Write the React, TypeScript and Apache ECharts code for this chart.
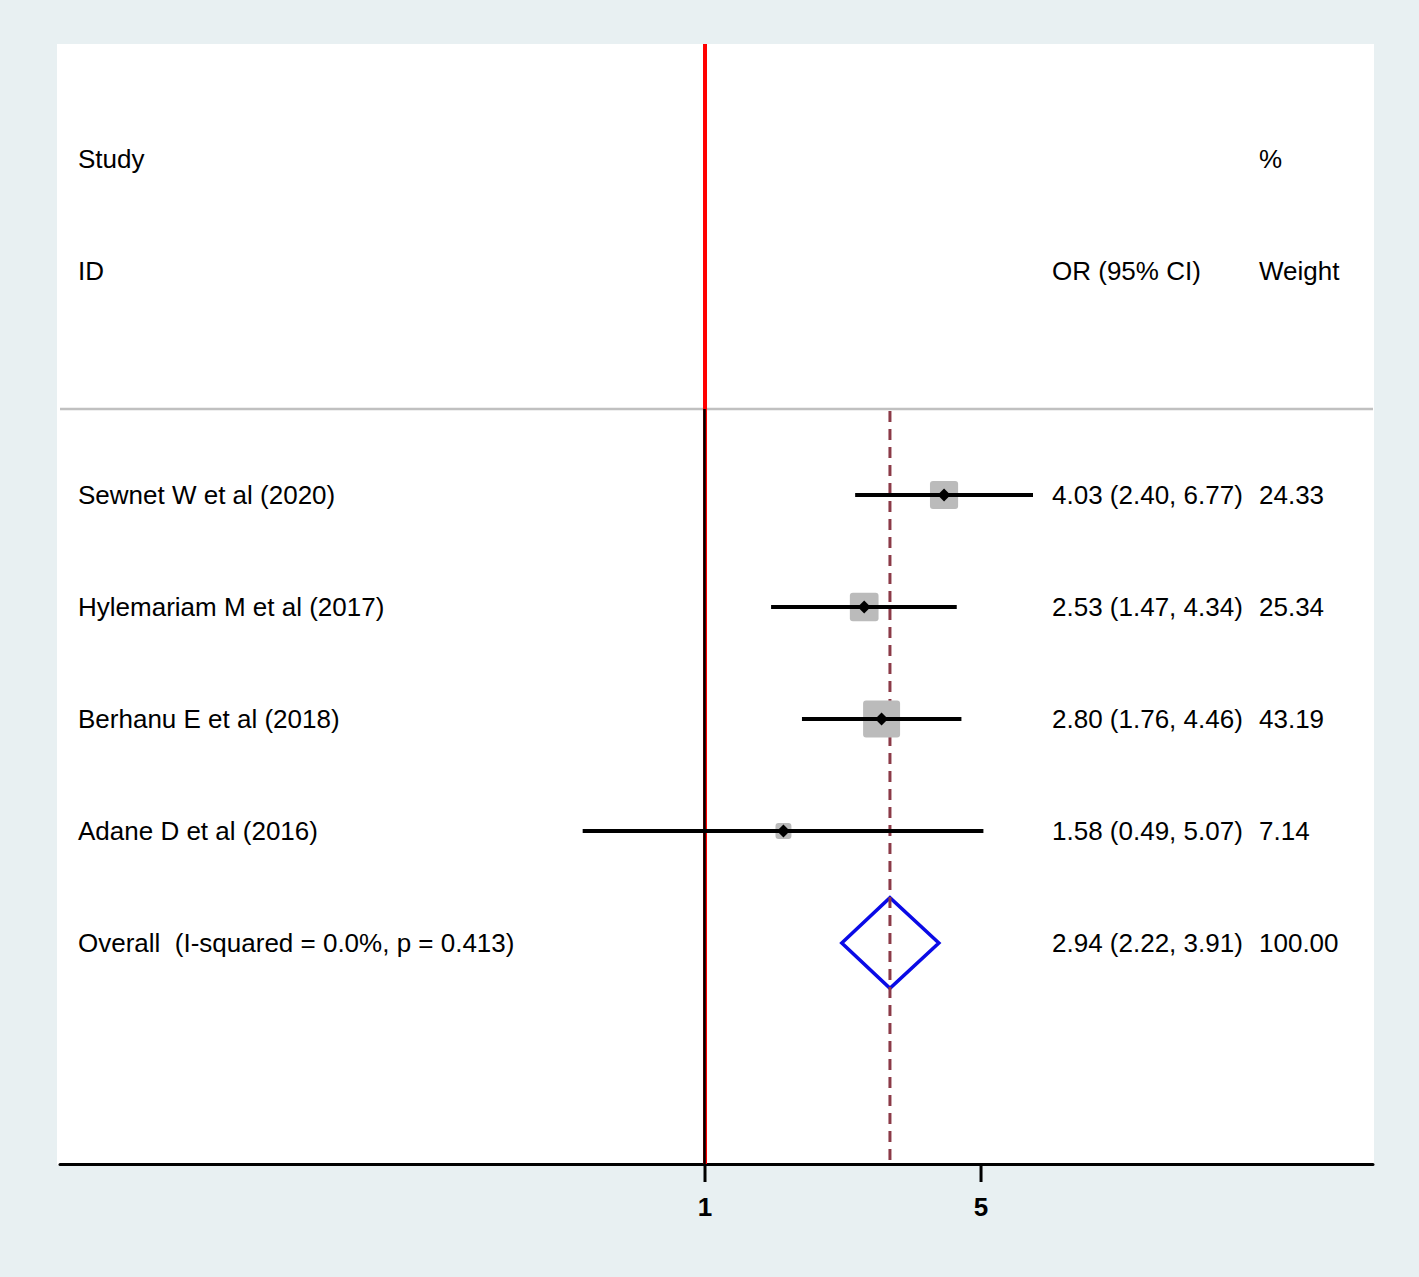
import React, { useEffect, useRef } from "react";
import * as echarts from "echarts";

// ---- data ----
const STUDIES = [
  "Sewnet W et al (2020)",
  "Hylemariam M et al (2017)",
  "Berhanu E et al (2018)",
  "Adane D et al (2016)",
];
const ODDS_RATIOS = [4.03, 2.53, 2.8, 1.58];
const CI_LOWER = [2.4, 1.47, 1.76, 0.49];
const CI_UPPER = [6.77, 4.34, 4.46, 5.07];
const WEIGHTS = [24.33, 25.34, 43.19, 7.14];

const OVERALL_LABEL = "Overall  (I-squared = 0.0%, p = 0.413)";
const OVERALL_OR = 2.94;
const OVERALL_LOWER = 2.22;
const OVERALL_UPPER = 3.91;
const OVERALL_WEIGHT = 100.0;

const X_TICKS = [1, 5];

const HEADER_STUDY = ["Study", "ID"];
const HEADER_EFFECT = ["", "OR (95% CI)"];
const HEADER_WEIGHT = ["%", "Weight"];

// ---- layout ----
const X_MIN = -3.761; // ln-space
const X_MAX = 3.895;
const Y_MIN = -0.027; // row units
const Y_MAX = 9.973;
const HEADER_ROWS = [1, 2];
const DIVIDER_ROW = 3.232;
const FIRST_STUDY_ROW = 4;
const OVERALL_ROW = FIRST_STUDY_ROW + STUDIES.length;
const DIAMOND_HALF = 0.405;
const LABEL_X = 78;
const EFFECT_X = 1052;
const WEIGHT_X = 1259;
const BOX_SCALE = 5.4;
const FONT = "'Liberation Sans', Arial, Helvetica, sans-serif";
const FONT_SIZE = 26;

const ln = Math.log;
const fmt = (v: number) => v.toFixed(2);

export default function App() {
  const ref = useRef<HTMLDivElement>(null);

  useEffect(() => {
    if (!ref.current) return;
    const chart = echarts.init(ref.current, undefined, { renderer: "svg" });

    type TextItem = { text: string; x: number; row: number };
    const texts: TextItem[] = [];
    HEADER_ROWS.forEach((row, k) => {
      texts.push({ text: HEADER_STUDY[k], x: LABEL_X, row });
      if (HEADER_EFFECT[k]) texts.push({ text: HEADER_EFFECT[k], x: EFFECT_X, row });
      texts.push({ text: HEADER_WEIGHT[k], x: WEIGHT_X, row });
    });
    STUDIES.forEach((s, i) => {
      const row = FIRST_STUDY_ROW + i;
      texts.push({ text: s, x: LABEL_X, row });
      texts.push({
        text: `${fmt(ODDS_RATIOS[i])} (${fmt(CI_LOWER[i])}, ${fmt(CI_UPPER[i])})`,
        x: EFFECT_X,
        row,
      });
      texts.push({ text: fmt(WEIGHTS[i]), x: WEIGHT_X, row });
    });
    texts.push({ text: OVERALL_LABEL, x: LABEL_X, row: OVERALL_ROW });
    texts.push({
      text: `${fmt(OVERALL_OR)} (${fmt(OVERALL_LOWER)}, ${fmt(OVERALL_UPPER)})`,
      x: EFFECT_X,
      row: OVERALL_ROW,
    });
    texts.push({ text: fmt(OVERALL_WEIGHT), x: WEIGHT_X, row: OVERALL_ROW });

    const option: any = {
      animation: false,
      backgroundColor: "#e8f0f2",
      graphic: [
        {
          type: "rect",
          z: -100,
          shape: { x: 57, y: 44, width: 1317, height: 1121 },
          style: { fill: "#ffffff" },
        },
      ],
      grid: { left: 60, right: 46, top: 44, bottom: 113 },
      xAxis: {
        type: "value",
        position: "bottom",
        min: X_MIN,
        max: X_MAX,
        axisLine: { show: true, onZero: false, lineStyle: { color: "#000", width: 3 } },
        axisTick: { show: false },
        axisLabel: { show: false },
        splitLine: { show: false },
      },
      yAxis: {
        type: "value",
        min: Y_MIN,
        max: Y_MAX,
        inverse: true,
        show: false,
        splitLine: { show: false },
      },
      series: [
        // overall diamond
        {
          type: "custom",
          z: 2,
          data: [[ln(OVERALL_OR), OVERALL_ROW]],
          renderItem: (_p: any, api: any) => {
            const l = api.coord([ln(OVERALL_LOWER), OVERALL_ROW]);
            const u = api.coord([ln(OVERALL_UPPER), OVERALL_ROW]);
            const t = api.coord([ln(OVERALL_OR), OVERALL_ROW - DIAMOND_HALF]);
            const b = api.coord([ln(OVERALL_OR), OVERALL_ROW + DIAMOND_HALF]);
            return {
              type: "polygon",
              shape: { points: [l, t, u, b] },
              style: { fill: "none", stroke: "#0a0ae6", lineWidth: 3.5, lineJoin: "miter" },
            };
          },
        },
        // reference lines
        {
          type: "custom",
          z: 3,
          data: [[0, 0]],
          renderItem: (_p: any, api: any) => {
            const top = api.coord([0, Y_MIN]);
            const div = api.coord([0, DIVIDER_ROW]);
            const bot = api.coord([0, Y_MAX]);
            const dl = api.coord([X_MIN, DIVIDER_ROW]);
            const dr = api.coord([X_MAX, DIVIDER_ROW]);
            const oTop = api.coord([ln(OVERALL_OR), DIVIDER_ROW]);
            const oBot = api.coord([ln(OVERALL_OR), Y_MAX]);
            return {
              type: "group",
              children: [
                {
                  type: "line",
                  shape: { x1: dl[0], y1: dl[1], x2: dr[0], y2: dr[1] },
                  style: { stroke: "#c0c0c0", lineWidth: 2.5 },
                },
                {
                  type: "line",
                  shape: { x1: oTop[0], y1: oTop[1] + 2, x2: oBot[0], y2: oBot[1] },
                  style: { stroke: "#8b3a47", lineWidth: 3, lineDash: [11, 7] },
                },
                {
                  type: "line",
                  shape: { x1: top[0], y1: top[1], x2: bot[0], y2: bot[1] },
                  style: { stroke: "#ff0000", lineWidth: 4 },
                },
                {
                  type: "line",
                  shape: { x1: div[0] - 0.5, y1: div[1], x2: bot[0] - 0.5, y2: bot[1] },
                  style: { stroke: "#000000", lineWidth: 2.5 },
                },
              ],
            };
          },
        },
        // studies
        {
          type: "custom",
          z: 4,
          data: STUDIES.map((_, i) => [ln(ODDS_RATIOS[i]), FIRST_STUDY_ROW + i]),
          renderItem: (params: any, api: any) => {
            const i = params.dataIndex;
            const row = FIRST_STUDY_ROW + i;
            const c = api.coord([ln(ODDS_RATIOS[i]), row]);
            const l = api.coord([ln(CI_LOWER[i]), row]);
            const u = api.coord([ln(CI_UPPER[i]), row]);
            const side = BOX_SCALE * Math.sqrt(WEIGHTS[i]) + 1.5;
            const m = 6.5;
            return {
              type: "group",
              children: [
                {
                  type: "rect",
                  shape: { x: c[0] - side / 2, y: c[1] - side / 2, width: side, height: side, r: 3 },
                  style: { fill: "#bbbbbb" },
                },
                {
                  type: "line",
                  shape: { x1: l[0], y1: l[1], x2: u[0], y2: u[1] },
                  style: { stroke: "#000", lineWidth: 4 },
                },
                {
                  type: "polygon",
                  shape: {
                    points: [
                      [c[0] - m, c[1]],
                      [c[0], c[1] - m],
                      [c[0] + m, c[1]],
                      [c[0], c[1] + m],
                    ],
                  },
                  style: { fill: "#000" },
                },
              ],
            };
          },
        },
        // texts
        {
          type: "custom",
          z: 5,
          data: texts.map((t) => [0, t.row]),
          renderItem: (params: any, api: any) => {
            const t = texts[params.dataIndex];
            const p = api.coord([0, t.row]);
            return {
              type: "text",
              style: {
                x: t.x,
                y: p[1],
                text: t.text,
                fill: "#000",
                fontSize: FONT_SIZE,
                fontFamily: FONT,
                align: "left",
                verticalAlign: "middle",
              },
            };
          },
        },
        // axis ticks & labels
        {
          type: "custom",
          z: 5,
          clip: false,
          data: X_TICKS.map((t) => [ln(t), Y_MAX]),
          renderItem: (params: any, api: any) => {
            const v = X_TICKS[params.dataIndex];
            const p = api.coord([ln(v), Y_MAX]);
            return {
              type: "group",
              children: [
                {
                  type: "line",
                  shape: { x1: p[0], y1: p[1], x2: p[0], y2: p[1] + 18 },
                  style: { stroke: "#000", lineWidth: 3 },
                },
                {
                  type: "text",
                  style: {
                    x: p[0],
                    y: p[1] + 43,
                    text: String(v),
                    fill: "#000",
                    fontSize: FONT_SIZE,
                    fontWeight: "bold",
                    fontFamily: FONT,
                    align: "center",
                    verticalAlign: "middle",
                  },
                },
              ],
            };
          },
        },
      ],
    };

    chart.setOption(option);
    return () => chart.dispose();
  }, []);

  return (
    <div
      ref={ref}
      style={{ position: "fixed", left: 0, top: 0, width: 1419, height: 1277 }}
    />
  );
}
